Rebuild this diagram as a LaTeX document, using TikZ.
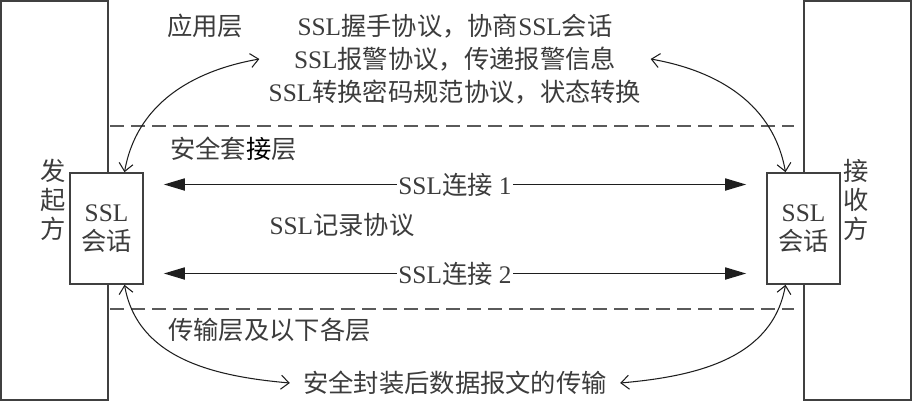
\documentclass[tikz,border=0pt]{standalone}
\usepackage{fontspec}
\setmainfont{Liberation Serif}
\newfontfamily\cjk{Noto Sans CJK SC}
\newcommand{\zh}[1]{{\cjk #1}}
\usetikzlibrary{arrows.meta}
\definecolor{INKc}{HTML}{3C3C3C}
\definecolor{CBORD}{HTML}{404040}
\definecolor{CARROW}{HTML}{1E1E1E}
\definecolor{CDASH}{HTML}{5A5A5A}

\begin{document}
\begin{tikzpicture}[
  font=\fontsize{14.4}{18.8}\selectfont, text=INKc,
  % tall column for each party
  party/.style={draw=CBORD, line width=0.9pt, minimum width=2.14cm,
                minimum height=7.98cm, inner sep=0pt},
  % session box, drawn over the column edge
  sess/.style={draw=CBORD, line width=0.9pt, fill=white, align=center,
               minimum width=1.46cm, minimum height=2.22cm, inner sep=0pt,
               font=\fontsize{14.4}{16.5}\selectfont},
  % stacked party name
  vlab/.style={align=center, inner sep=0pt, font=\cjk\fontsize{14.4}{16.5}\selectfont},
  % layer name
  lay/.style={anchor=west, inner sep=0pt},
  % layer border
  layersep/.style={draw=CDASH, line width=0.8pt, dash pattern=on 2.8mm off 1.4mm},
  % connection arrow
  conn/.style={{Triangle[length=4.2mm,width=2.4mm]}-{Triangle[length=4.2mm,width=2.4mm]},
               draw=CARROW, line width=1pt, shorten <=0.4cm, shorten >=0.4cm},
  clab/.style={fill=white, inner sep=1pt},
  % curved double arrow
  curv/.style={{Straight Barb[length=1.6mm,width=2.8mm]}-{Straight Barb[length=1.6mm,width=2.8mm]},
               draw=CARROW, line width=0.6pt},
]
\useasboundingbox (0,0) rectangle (18.28,8.22);

% ---------- Parties ----------
\node[party] (SEND) at (1.09,4.21) {};
\node[party] (RECV) at (17.15,4.21) {};
\node[vlab] (SENDL) at (1.07,4.23) {发\\起\\方};
\node[vlab] (RECVL) at (17.13,4.23) {接\\收\\方};

% ---------- Layer borders ----------
\draw[layersep] (2.2,5.7) -- (15.88,5.7);
\draw[layersep] (2.2,2.04) -- (15.88,2.04);

% ---------- Layer names ----------
\node[lay] (APP) at (3.34,7.7) {\zh{应用层}};
\node[lay] (SOCK) at (3.4,5.24) {\zh{安全套\textcolor{black}{接}层}};
\node[lay] (TRANS) at (3.36,1.62) {\zh{传输层及以下各层}};

% ---------- Session boxes ----------
\node[sess] (LS) at (2.13,3.65) {SSL\\\zh{会话}};
\node[sess] (RS) at (16.07,3.65) {SSL\\\zh{会话}};

% ---------- Protocol texts ----------
\node[align=center, inner sep=0.18cm] (TOP) at (9.1,7.04)
  {SSL\zh{握手协议，协商}SSL\zh{会话}\\
   SSL\zh{报警协议，传递报警信息}\\
   SSL\zh{转换密码规范协议，状态转换}};
\node (REC) at (6.84,3.72) {SSL\zh{记录协议}};
\node[inner sep=0.26cm] (BOT) at (9.1,0.56) {\zh{安全封装后数据报文的传输}};

% ---------- SSL connections ----------
\draw[conn] ([yshift=0.88cm]LS.east) -- node[clab]{SSL\zh{连接} 1} ([yshift=0.88cm]RS.west);
\draw[conn] ([yshift=-0.9cm]LS.east) -- node[clab]{SSL\zh{连接} 2} ([yshift=-0.9cm]RS.west);

% ---------- Upper and lower layers ----------
\draw[curv] ([xshift=0.36cm]LS.north) to[out=80, in=190] (TOP.west);
\draw[curv] ([xshift=-0.36cm]RS.north) to[out=100, in=-10] (TOP.east);
\draw[curv] ([xshift=0.36cm]LS.south) to[out=-80, in=175] (BOT.west);
\draw[curv] ([xshift=-0.36cm]RS.south) to[out=-100, in=5] (BOT.east);

\end{tikzpicture}
\end{document}
